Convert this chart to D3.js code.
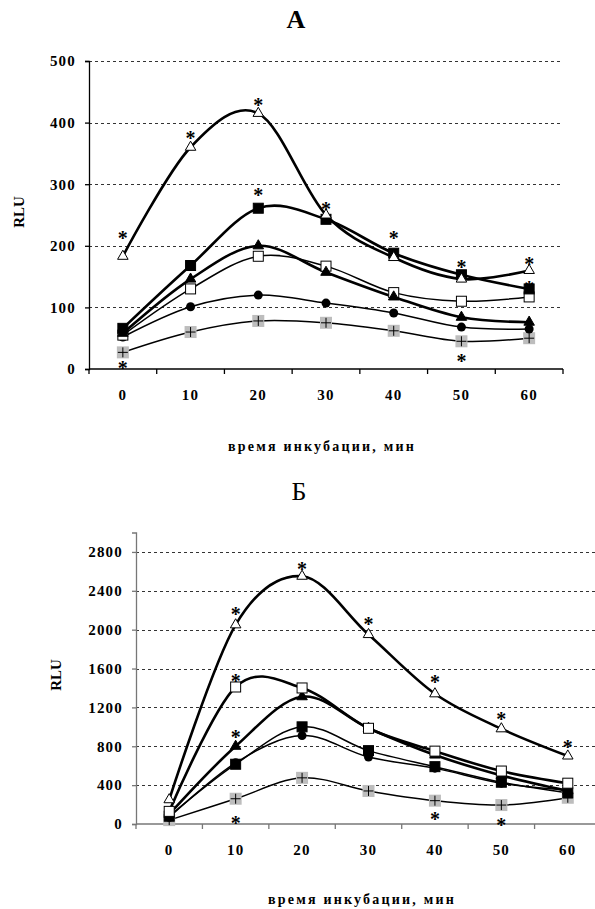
<!DOCTYPE html>
<html><head><meta charset="utf-8">
<script src="https://cdn.jsdelivr.net/npm/d3@7"></script>
<style>
html,body{margin:0;padding:0;background:#fff;}
svg{display:block;}
svg text{font-family:"Liberation Serif","Times New Roman",Times,serif !important;}
</style></head>
<body>
<svg id="c" width="595" height="909"></svg>
<script>
// ---------- DATA ----------
const categories = [0, 10, 20, 30, 40, 50, 60];

// Chart A
const yTicksA = [0, 100, 200, 300, 400, 500];
const A_openTriangle = [183, 360, 415, 250, 181, 146, 160];
const A_filledSquare = [66, 168, 261, 243, 188, 153, 130];
const A_filledTriangle = [58, 146, 200, 157, 117, 84, 76];
const A_openSquare = [55, 130, 183, 167, 124, 110, 117];
const A_circle = [52, 101, 120, 107, 91, 68, 65];
const A_plus = [27, 60, 78, 75, 62, 45, 50];
// asterisks: [category, value at star centre]
const A_stars = [[0, 221], [10, 383], [20, 438], [30, 269], [40, 221], [50, 175], [60, 180],
                 [60, 141], [20, 292], [0, 11], [50, 21]];

// Chart Б
const yTicksB = [0, 400, 800, 1200, 1600, 2000, 2400, 2800];
const B_openTriangle = [250, 2050, 2550, 1950, 1340, 980, 700];
const B_openSquare = [130, 1410, 1400, 985, 750, 545, 420];
const B_filledTriangle = [100, 800, 1310, 985, 710, 500, 340];
const B_filledSquare = [80, 615, 1000, 755, 590, 430, 320];
const B_circle = [70, 630, 910, 690, 575, 420, 350];
const B_plus = [40, 260, 475, 340, 240, 195, 270];
const B_stars = [[10, 2221], [20, 2684], [30, 2118], [40, 1512], [50, 1141], [60, 843],
                 [10, 1532], [10, 956], [10, 62], [40, 103], [50, 41]];

const xTitle = "время инкубации, мин";
const yTitle = "RLU";

// ---------- DRAW ----------
const FONT = '"Liberation Serif","Times New Roman",Times,serif';
const svg = d3.select("#c");

function marker(g, type, x, y) {
  if (type === "openTriangle" || type === "filledTriangle") {
    g.append("path").attr("d", d3.symbol(d3.symbolTriangle, 48)())
      .attr("transform", `translate(${x},${y})`)
      .attr("fill", type === "openTriangle" ? "#fff" : "#000")
      .attr("stroke", "#000").attr("stroke-width", 1);
  } else if (type === "openSquare" || type === "filledSquare") {
    g.append("rect").attr("x", x - 5).attr("y", y - 5).attr("width", 10).attr("height", 10)
      .attr("fill", type === "openSquare" ? "#fff" : "#000")
      .attr("stroke", "#000").attr("stroke-width", 1);
  } else if (type === "circle") {
    g.append("circle").attr("cx", x).attr("cy", y).attr("r", 4.5).attr("fill", "#000");
  } else if (type === "plus") {
    g.append("rect").attr("x", x - 6).attr("y", y - 6).attr("width", 12).attr("height", 12)
      .attr("fill", "#bdbdbd");
    g.append("path").attr("d", `M${x - 5},${y}H${x + 5}M${x},${y - 5}V${y + 5}`)
      .attr("stroke", "#000").attr("stroke-width", 1);
  }
}

function drawChart(cfg) {
  const g = svg.append("g").attr("font-family", FONT);
  const x = d3.scaleBand().domain(categories).range([cfg.left, cfg.right]);
  const y = d3.scaleLinear().domain(cfg.yDomain).range([cfg.bottom, cfg.top]);

  // title
  g.append("text").attr("x", cfg.titleX).attr("y", cfg.titleY)
    .attr("text-anchor", "middle").attr("font-size", 26).attr("font-family", FONT)
    .attr("font-weight", cfg.titleBold ? "bold" : "normal").text(cfg.title);

  // gridlines
  g.append("g").selectAll("line").data(cfg.yTicks.filter(d => d > 0)).join("line")
    .attr("x1", cfg.left).attr("x2", cfg.gridRight)
    .attr("y1", d => Math.round(y(d)) + 0.5).attr("y2", d => Math.round(y(d)) + 0.5)
    .attr("stroke", "#333").attr("stroke-width", 1).attr("stroke-dasharray", "3,3");

  // y axis
  const ya = g.append("g").attr("transform", `translate(${cfg.left},0)`)
    .call(d3.axisLeft(y).tickValues(cfg.yTicks).tickFormat(d3.format("d")).tickSize(4).tickPadding(9));
  ya.attr("font-family", FONT);
  ya.select(".domain").attr("stroke", cfg.axisColor).attr("stroke-width", 1.3);
  ya.selectAll(".tick line").attr("stroke", cfg.axisColor).attr("stroke-width", 1.3);
  ya.selectAll(".tick text").attr("font-size", 15).attr("font-weight", "bold")
    .attr("fill", "#000").attr("letter-spacing", 1.2).attr("font-family", FONT);

  // x axis with ticks at band boundaries
  const xa = g.append("g").attr("transform", `translate(0,${cfg.bottom})`);
  xa.append("line").attr("x1", cfg.left).attr("x2", cfg.right)
    .attr("stroke", cfg.axisColor).attr("stroke-width", 1.3);
  const bounds = categories.map(c => x(c)).concat([x(categories[categories.length - 1]) + x.bandwidth()]);
  xa.selectAll("line.t").data(bounds).join("line").attr("class", "t")
    .attr("x1", d => d).attr("x2", d => d).attr("y1", 0).attr("y2", 5)
    .attr("stroke", cfg.axisColor).attr("stroke-width", 1.3);
  xa.selectAll("text").data(categories).join("text")
    .attr("x", d => x(d) + x.bandwidth() / 2).attr("y", 31)
    .attr("text-anchor", "middle").attr("font-size", 15).attr("font-weight", "bold")
    .attr("font-family", FONT).attr("letter-spacing", 1.2).text(d => d);

  // axis titles
  g.append("text").attr("x", cfg.xTitleX).attr("y", cfg.xTitleY)
    .attr("text-anchor", "middle").attr("font-size", 14).attr("font-weight", "bold")
    .attr("font-family", FONT).attr("letter-spacing", 2.2).text(xTitle);
  g.append("text").attr("transform", `translate(${cfg.yTitleX},${cfg.yTitleY}) rotate(-90)`)
    .attr("text-anchor", "middle").attr("font-size", 15).attr("font-weight", "bold")
    .attr("font-family", FONT).text(yTitle);

  const cx = c => x(c) + x.bandwidth() / 2;
  const line = d3.line().x((d, i) => cx(categories[i])).y(d => y(d))
    .curve(d3.curveCatmullRom.alpha(0));

  cfg.series.forEach(s => {
    g.append("path").datum(s.values).attr("d", line)
      .attr("fill", "none").attr("stroke", "#000").attr("stroke-width", s.thick ? 2.6 : 1.5);
  });
  cfg.series.slice().reverse().forEach(s => {
    const mg = g.append("g");
    s.values.forEach((v, i) => marker(mg, s.type, cx(categories[i]), y(v)));
  });

  g.append("g").selectAll("text").data(cfg.stars).join("text")
    .attr("x", d => cx(d[0])).attr("y", d => y(d[1]))
    .attr("dy", "0.62em").attr("text-anchor", "middle").attr("font-family", FONT)
    .attr("font-size", 20).attr("font-weight", "bold").text("*");
}

drawChart({
  title: "А", titleBold: true, titleX: 296, titleY: 28,
  left: 89, right: 563, gridRight: 563, top: 61, bottom: 369,
  yDomain: [0, 500], yTicks: yTicksA, axisColor: "#000",
  xTitleX: 322, xTitleY: 451, yTitleX: 24, yTitleY: 212,
  series: [
    {type: "openTriangle", values: A_openTriangle, thick: true},
    {type: "filledSquare", values: A_filledSquare, thick: true},
    {type: "filledTriangle", values: A_filledTriangle, thick: true},
    {type: "openSquare", values: A_openSquare, thick: false},
    {type: "circle", values: A_circle, thick: false},
    {type: "plus", values: A_plus, thick: false}
  ],
  stars: A_stars
});

drawChart({
  title: "Б", titleBold: false, titleX: 299, titleY: 500,
  left: 136, right: 601, gridRight: 601, top: 532.5, bottom: 824,
  yDomain: [0, 3000], yTicks: yTicksB, axisColor: "#777",
  xTitleX: 362, xTitleY: 904, yTitleX: 61, yTitleY: 675,
  series: [
    {type: "openTriangle", values: B_openTriangle, thick: true},
    {type: "openSquare", values: B_openSquare, thick: true},
    {type: "filledTriangle", values: B_filledTriangle, thick: true},
    {type: "filledSquare", values: B_filledSquare, thick: false},
    {type: "circle", values: B_circle, thick: false},
    {type: "plus", values: B_plus, thick: false}
  ],
  stars: B_stars
});
</script>
</body></html>
